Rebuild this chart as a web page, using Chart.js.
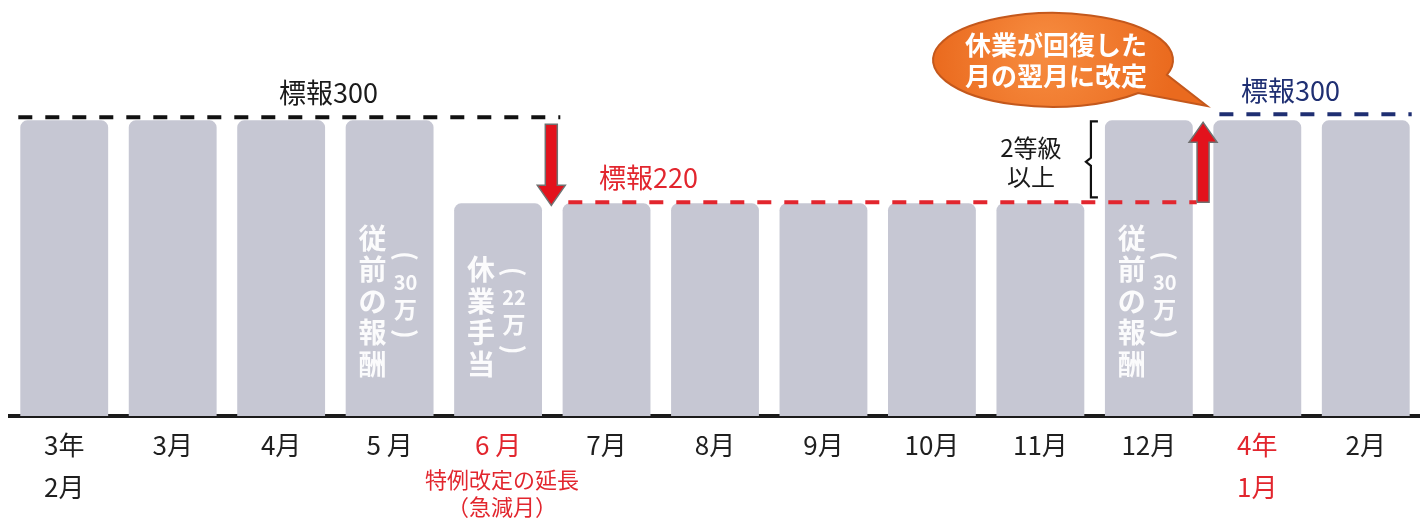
<!DOCTYPE html>
<html lang="ja">
<head>
<meta charset="utf-8">
<title>標準報酬月額の特例改定</title>
<script src="https://cdn.jsdelivr.net/npm/chart.js@4.4.1/dist/chart.umd.min.js"></script>
<style>
  html, body { margin: 0; padding: 0; background: #fff; }
  #wrap { width: 1420px; height: 521px; position: relative; }
</style>
</head>
<body>
<div id="wrap"><canvas id="chart"></canvas></div>
<script>
// ===== data =====
const months = [['3年', '2月'], '3月', '4月', '5 月', '6 月', '7月', '8月', '9月', '10月', '11月', '12月', ['4年', '1月'], '2月'];
const pay = [300, 300, 300, 300, 220, 220, 220, 220, 220, 220, 300, 300, 300];
const redTicks = [4, 11];
const juneNote = ['特例改定の延長', '（急減月）'];

// standard-pay levels
const levelBefore = { text: '標報300', value: 300 };
const levelDrop = { text: '標報220', value: 220 };
const levelBack = { text: '標報300', value: 300 };

// white vertical text inside bars
const barNotes = [
  { index: 3, main: '従前の報酬', amount: '30' },
  { index: 4, main: '休業手当', amount: '22' },
  { index: 10, main: '従前の報酬', amount: '30' }
];
const bubbleLines = ['休業が回復した', '月の翌月に改定'];
const bracketLines = ['2等級', '以上'];

const FONT = '"Noto Sans CJK JP", "Noto Sans", sans-serif';
const RED = '#e2262e';
const BLUE = '#1f2f72';
const BAR = '#c6c7d3';
const WHITE = 'rgba(255,255,255,0.93)';

function dashed(ctx, x0, x1, y, color) {
  ctx.save();
  ctx.strokeStyle = color;
  ctx.lineWidth = 4;
  ctx.setLineDash([14, 13]);
  ctx.beginPath();
  ctx.moveTo(x0, y);
  ctx.lineTo(x1, y);
  ctx.stroke();
  ctx.restore();
}

function arrow(ctx, x, yFrom, yTo) {
  const dir = yTo > yFrom ? 1 : -1;
  const sw = 6, hw = 14, hl = 20;
  const yb = yTo - dir * hl;
  ctx.save();
  ctx.beginPath();
  ctx.moveTo(x - sw, yFrom);
  ctx.lineTo(x + sw, yFrom);
  ctx.lineTo(x + sw, yb);
  ctx.lineTo(x + hw, yb);
  ctx.lineTo(x, yTo);
  ctx.lineTo(x - hw, yb);
  ctx.lineTo(x - sw, yb);
  ctx.closePath();
  ctx.fillStyle = '#e3121c';
  ctx.fill();
  ctx.strokeStyle = '#707070';
  ctx.lineWidth = 1.5;
  ctx.stroke();
  ctx.restore();
}

function text(ctx, str, x, y, size, color, weight) {
  ctx.font = `${weight || 'normal'} ${size}px ${FONT}`;
  ctx.fillStyle = color;
  ctx.textAlign = 'center';
  ctx.textBaseline = 'middle';
  ctx.fillText(str, x, y);
}

// parenthesis turned for vertical writing
function vParen(ctx, ch, x, y) {
  ctx.save();
  ctx.translate(x, y);
  ctx.rotate(Math.PI / 2);
  text(ctx, ch, 0, 0, 26, WHITE, 'bold');
  ctx.restore();
}

const annotate = {
  id: 'annotate',
  afterDraw(chart) {
    const ctx = chart.ctx;
    const xs = chart.scales.x, ys = chart.scales.y;
    const bars = chart.getDatasetMeta(0).data;
    const half = bars[0].width / 2;
    const cx = i => xs.getPixelForValue(i);
    const mid = (a, b) => (cx(a) + cx(b)) / 2;
    const base = ys.getPixelForValue(ys.min);

    const y300 = ys.getPixelForValue(levelBefore.value);
    const y220 = ys.getPixelForValue(levelDrop.value);
    const yBack = ys.getPixelForValue(levelBack.value);
    dashed(ctx, cx(0) - half - 2, mid(4, 5) + 8, y300 - 3, '#111');
    dashed(ctx, mid(4, 5) + 16, cx(10) + half + 4, y220 - 1, RED);
    dashed(ctx, cx(11) - half + 6, cx(12) + half + 2, yBack - 6, BLUE);

    text(ctx, levelBefore.text, mid(2, 3) - 7, y300 - 28, 27, '#1a1a1a');
    text(ctx, levelDrop.text, cx(5) + 42, y220 - 26, 27, RED);
    text(ctx, levelBack.text, mid(11, 12) - 21, yBack - 30, 27, BLUE);

    arrow(ctx, mid(4, 5) - 1, y300 + 4, y220 + 2);
    arrow(ctx, mid(10, 11), y220 - 1, y300 + 2);

    // bracket
    const bx = cx(10) - half - 14;
    const bm = (y300 + y220) / 2;
    ctx.save();
    ctx.strokeStyle = '#111';
    ctx.lineWidth = 2.2;
    ctx.beginPath();
    ctx.moveTo(bx + 7, y300 + 1);
    ctx.lineTo(bx, y300 + 1);
    ctx.lineTo(bx, bm - 4);
    ctx.lineTo(bx - 5, bm);
    ctx.lineTo(bx, bm + 4);
    ctx.lineTo(bx, y220 - 6);
    ctx.lineTo(bx + 7, y220 - 6);
    ctx.stroke();
    ctx.restore();
    text(ctx, bracketLines[0], bx - 60, y300 + 28, 24, '#1a1a1a');
    text(ctx, bracketLines[1], bx - 60, y300 + 57, 24, '#1a1a1a');

    // speech bubble
    const ex = 1053, ey = 60, rx = 120, ry = 47;
    const tipX = mid(10, 11) + 4, tipY = 106;
    ctx.save();
    ctx.beginPath();
    ctx.moveTo(tipX, tipY);
    ctx.ellipse(ex, ey, rx, ry, 0, 0.32, 0.78, true);
    ctx.closePath();
    const g = ctx.createRadialGradient(ex - 10, ey - 10, 10, ex, ey, rx);
    g.addColorStop(0, '#f68a3e');
    g.addColorStop(1, '#ea6a1e');
    ctx.fillStyle = g;
    ctx.fill();
    ctx.strokeStyle = '#c4581c';
    ctx.lineWidth = 2;
    ctx.stroke();
    ctx.restore();
    text(ctx, bubbleLines[0], ex + 3, ey - 15, 26, '#fff', 'bold');
    text(ctx, bubbleLines[1], ex + 3, ey + 16, 26, '#fff', 'bold');

    // note under 6月
    text(ctx, juneNote[0], cx(4) + 4, 480, 22, RED);
    text(ctx, juneNote[1], cx(4) + 4, 507, 22, RED);

    // vertical white text in bars
    barNotes.forEach(n => {
      const x = cx(n.index);
      const chars = n.main.split('');
      const step = 31.5;
      const last = base - 52;
      const first = last - (chars.length - 1) * step;
      chars.forEach((c, k) => text(ctx, c, x - 17, first + k * step, 28, WHITE, 'bold'));
      const colMid = (first + last) / 2 - 5;
      vParen(ctx, '(', x + 16, colMid - 40);
      text(ctx, n.amount, x + 16, colMid - 14, 20, WHITE, 'bold');
      text(ctx, '万', x + 16, colMid + 13, 23, WHITE, 'bold');
      vParen(ctx, ')', x + 16, colMid + 38);
    });
  }
};

new Chart(document.getElementById('chart'), {
  type: 'bar',
  data: {
    labels: months,
    datasets: [{
      data: pay,
      backgroundColor: BAR,
      borderRadius: 7,
      borderSkipped: false,
      barPercentage: 0.81,
      categoryPercentage: 1.0
    }]
  },
  options: {
    responsive: true,
    maintainAspectRatio: false,
    animation: false,
    layout: { padding: { left: 10, right: 0, top: 0, bottom: 0 } },
    plugins: { legend: { display: false }, tooltip: { enabled: false } },
    scales: {
      x: {
        offset: true,
        z: 1,
        grid: { display: false, drawTicks: false },
        border: { display: true, width: 4, color: '#1b1b1b' },
        ticks: {
          autoSkip: false,
          maxRotation: 0,
          padding: 8,
          font: { family: FONT, size: 26, lineHeight: 1.62 },
          color: ctx => redTicks.includes(ctx.index) ? RED : '#1f1f1f'
        },
        afterFit: s => { s.height = 105; }
      },
      y: { display: false, min: 15, max: 416 }
    }
  },
  plugins: [annotate]
});
</script>
</body>
</html>
